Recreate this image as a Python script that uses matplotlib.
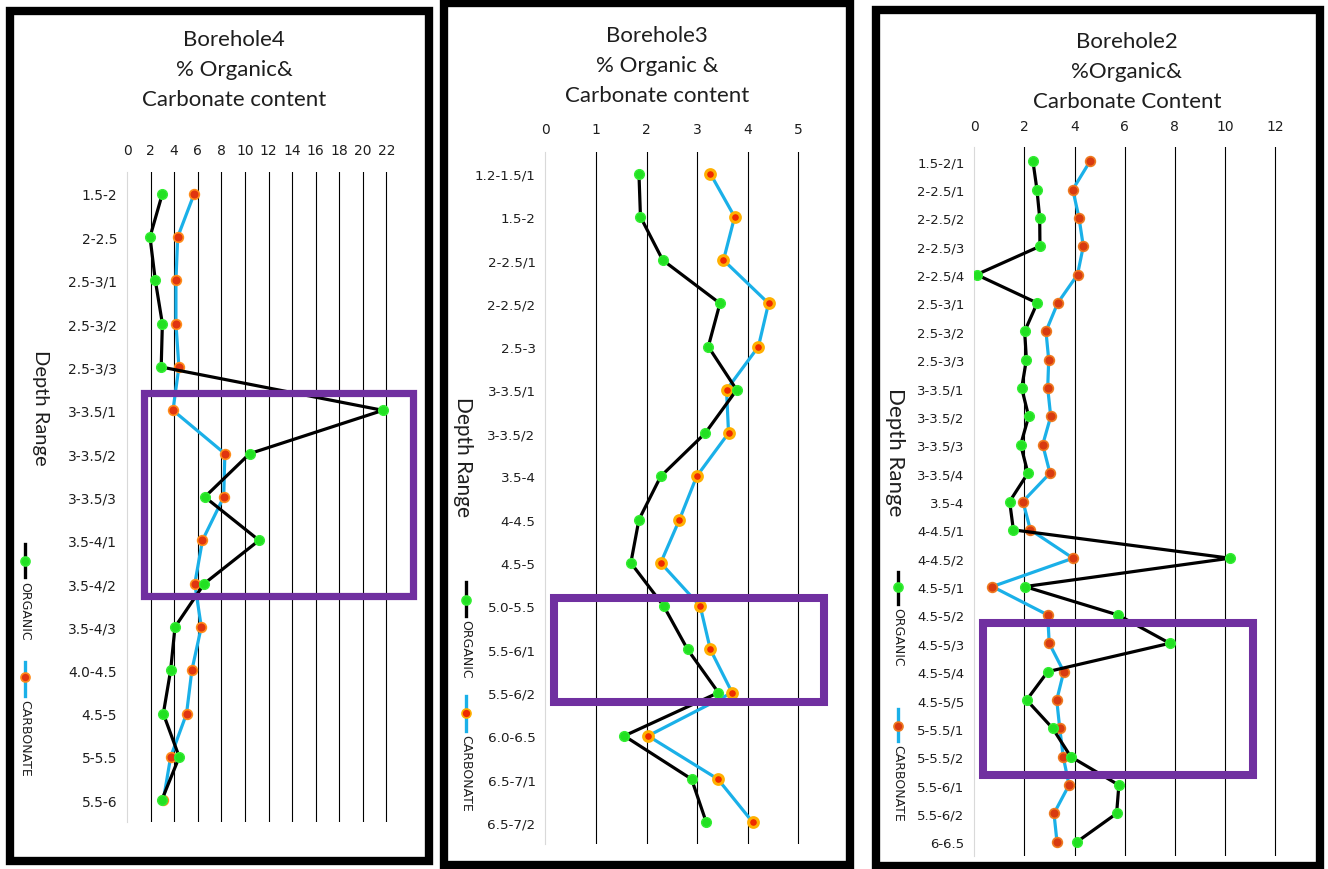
import numpy as np
import matplotlib
matplotlib.use("Agg")
import matplotlib.pyplot as plt
from matplotlib.patches import Rectangle
from matplotlib.lines import Line2D

# ---- data ----
bh4_depth = ['1.5-2', '2-2.5', '2.5-3/1', '2.5-3/2', '2.5-3/3', '3-3.5/1', '3-3.5/2',
             '3-3.5/3', '3.5-4/1', '3.5-4/2', '3.5-4/3', '4.0-4.5', '4.5-5', '5-5.5', '5.5-6']
bh4_organic = [3.0, 1.95, 2.4, 3.0, 2.9, 21.7, 10.4, 6.6, 11.2, 6.55, 4.07, 3.7, 3.08, 4.43, 2.94]
bh4_carbonate = [5.7, 4.3, 4.15, 4.15, 4.4, 3.9, 8.3, 8.2, 6.4, 5.75, 6.3, 5.5, 5.05, 3.7, 3.08]

bh3_depth = ['1.2-1.5/1', '1.5-2', '2-2.5/1', '2-2.5/2', '2.5-3', '3-3.5/1', '3-3.5/2', '3.5-4',
             '4-4.5', '4.5-5', '5.0-5.5', '5.5-6/1', '5.5-6/2', '6.0-6.5', '6.5-7/1', '6.5-7/2']
bh3_organic = [1.85, 1.88, 2.32, 3.45, 3.22, 3.78, 3.16, 2.28, 1.85, 1.69, 2.34, 2.81, 3.42, 1.56, 2.89, 3.18]
bh3_carbonate = [3.26, 3.74, 3.52, 4.41, 4.21, 3.58, 3.62, 2.99, 2.65, 2.28, 3.06, 3.26, 3.69, 2.03, 3.41, 4.1]

bh2_depth = ['1.5-2/1', '2-2.5/1', '2-2.5/2', '2-2.5/3', '2-2.5/4', '2.5-3/1', '2.5-3/2', '2.5-3/3',
             '3-3.5/1', '3-3.5/2', '3-3.5/3', '3-3.5/4', '3.5-4', '4-4.5/1', '4-4.5/2', '4.5-5/1',
             '4.5-5/2', '4.5-5/3', '4.5-5/4', '4.5-5/5', '5-5.5/1', '5-5.5/2', '5.5-6/1', '5.5-6/2', '6-6.5']
bh2_organic = [2.34, 2.5, 2.61, 2.62, 0.09, 2.51, 2.01, 2.08, 1.89, 2.17, 1.85, 2.14, 1.41, 1.56, 10.2,
               2.02, 5.73, 7.8, 2.93, 2.09, 3.13, 3.85, 5.77, 5.68, 4.1]
bh2_carbonate = [4.62, 3.93, 4.18, 4.35, 4.12, 3.33, 2.86, 2.97, 2.93, 3.05, 2.73, 3.02, 1.94, 2.24, 3.94,
                 0.72, 2.93, 2.99, 3.57, 3.29, 3.41, 3.55, 3.78, 3.18, 3.3]

W, H = 1328, 870
fig = plt.figure(figsize=(W / 100, H / 100), dpi=100)
fig.patch.set_facecolor('white')

PURPLE = '#7030a0'
GREEN = '#22e022'
BLUE = '#1ab0e8'
TXT = '#1e1e1e'


def px_rect(l, t, r, b):
    return [l / W, 1 - b / H, (r - l) / W, (b - t) / H]


def frame(l, t, r, b, lw, color='black', z=5):
    fig.add_artist(Rectangle((l / W, 1 - b / H), (r - l) / W, (b - t) / H, fill=False,
                             lw=lw, edgecolor=color, transform=fig.transFigure, zorder=z))


def fig_text(x, y, s, **kw):
    fig.text(x / W, 1 - y / H, s, transform=fig.transFigure, **kw)


def legend_px(x, y0, y1, ym, lcolor, mface, medge, label, ty):
    fig.add_artist(Line2D([x / W, x / W], [1 - y0 / H, 1 - y1 / H], color=lcolor, lw=2.4,
                          transform=fig.transFigure))
    fig.add_artist(Line2D([x / W], [1 - ym / H], marker='o', ms=6.5, mfc=mface, mec=medge, mew=1.2,
                          transform=fig.transFigure))
    fig_text(x, ty, label, rotation=-90, ha='center', va='top', fontsize=9, family='DejaVu Sans',
             color=TXT)


def panel(rect, depth, organic, carbonate, xmax, ticks, pad_top, carb_face, carb_edge, carb_mew,
          ylab_size):
    ax = fig.add_axes(px_rect(*rect))
    y = np.arange(len(depth))
    ax.plot(organic, y, color='black', lw=2.3, marker='o', ms=7, mfc=GREEN, mec='#33ee33', mew=1,
            zorder=4)
    ax.plot(carbonate, y, color=BLUE, lw=2.3, marker='o', ms=7, mfc=carb_face, mec=carb_edge,
            mew=carb_mew, zorder=3)
    ax.set_xlim(0, xmax)
    ax.set_ylim(len(depth) - 0.5, -0.5)
    for t in ticks[1:]:
        ax.axvline(t, color='black', lw=0.8, zorder=1)
    ax.set_xticks(ticks)
    ax.set_yticks(y)
    ax.set_yticklabels(depth)
    ax.xaxis.tick_top()
    ax.tick_params(axis='x', length=0, pad=pad_top, labelsize=10, labelcolor=TXT)
    ax.tick_params(axis='y', length=0, pad=7, labelsize=ylab_size, labelcolor=TXT)
    for s in ['top', 'right', 'bottom']:
        ax.spines[s].set_visible(False)
    ax.spines['left'].set_color('#d9d9d9')
    ax.set_facecolor('none')
    return ax


# ---- Borehole 4 ----
panel((127, 173, 410, 823), bh4_depth, bh4_organic, bh4_carbonate, 24, list(range(0, 23, 2)), 10.5,
      '#e03510', '#ff8c1a', 1.2, 10)
fig_text(234, 70, 'Borehole4\n% Organic&\nCarbonate content', ha='center', va='center', fontsize=16,
         family='Lato', linespacing=1.6, color=TXT)
fig_text(40, 408, 'Depth Range', rotation=-90, ha='center', va='center', fontsize=14.5, family='Lato',
         color=TXT)
legend_px(25, 545, 578, 562, 'black', GREEN, '#33ee33', 'ORGANIC', 582)
legend_px(25, 663, 697, 678, BLUE, '#e03510', '#ff8c1a', 'CARBONATE', 700)
frame(143.5, 393.5, 413, 596.5, 5.2, PURPLE)
frame(10, 11.5, 429, 861.5, 6.0)

# ---- Borehole 3 ----
panel((545.3, 153, 806, 845), bh3_depth, bh3_organic, bh3_carbonate, 5.15, list(range(0, 6)), 11.5,
      '#ee2a00', '#ffb000', 2.2, 9.7)
fig_text(657, 66, 'Borehole3\n% Organic &\nCarbonate content', ha='center', va='center', fontsize=16,
         family='Lato', linespacing=1.6, color=TXT)
fig_text(463, 457, 'Depth Range', rotation=-90, ha='center', va='center', fontsize=15, family='Lato',
         color=TXT)
legend_px(466, 583, 617, 601, 'black', GREEN, '#33ee33', 'ORGANIC', 620)
legend_px(466, 697, 732, 714, BLUE, '#ee2a00', '#ffb000', 'CARBONATE', 735)
frame(554, 598.5, 823.5, 703, 5.8, PURPLE)
frame(443.5, 4, 850, 866, 6.0)

# ---- Borehole 2 ----
panel((974.3, 148, 1290, 857), bh2_depth, bh2_organic, bh2_carbonate, 12.6, list(range(0, 13, 2)), 10,
      '#d83a10', '#ee7a20', 1.2, 9.5)
fig_text(1127, 72, 'Borehole2\n%Organic&\nCarbonate Content', ha='center', va='center', fontsize=16,
         family='Lato', linespacing=1.6, color=TXT)
fig_text(895, 452, 'Depth Range', rotation=-90, ha='center', va='center', fontsize=16, family='Lato',
         color=TXT)
legend_px(898, 573, 605, 588, 'black', GREEN, '#33ee33', 'ORGANIC', 608)
legend_px(898, 710, 742, 727, BLUE, '#d83a10', '#ee7a20', 'CARBONATE', 745)
frame(983, 624, 1253, 776, 5.8, PURPLE)
frame(875.5, 11, 1320, 866.5, 6.0)

fig.savefig('out.png', dpi=100)
